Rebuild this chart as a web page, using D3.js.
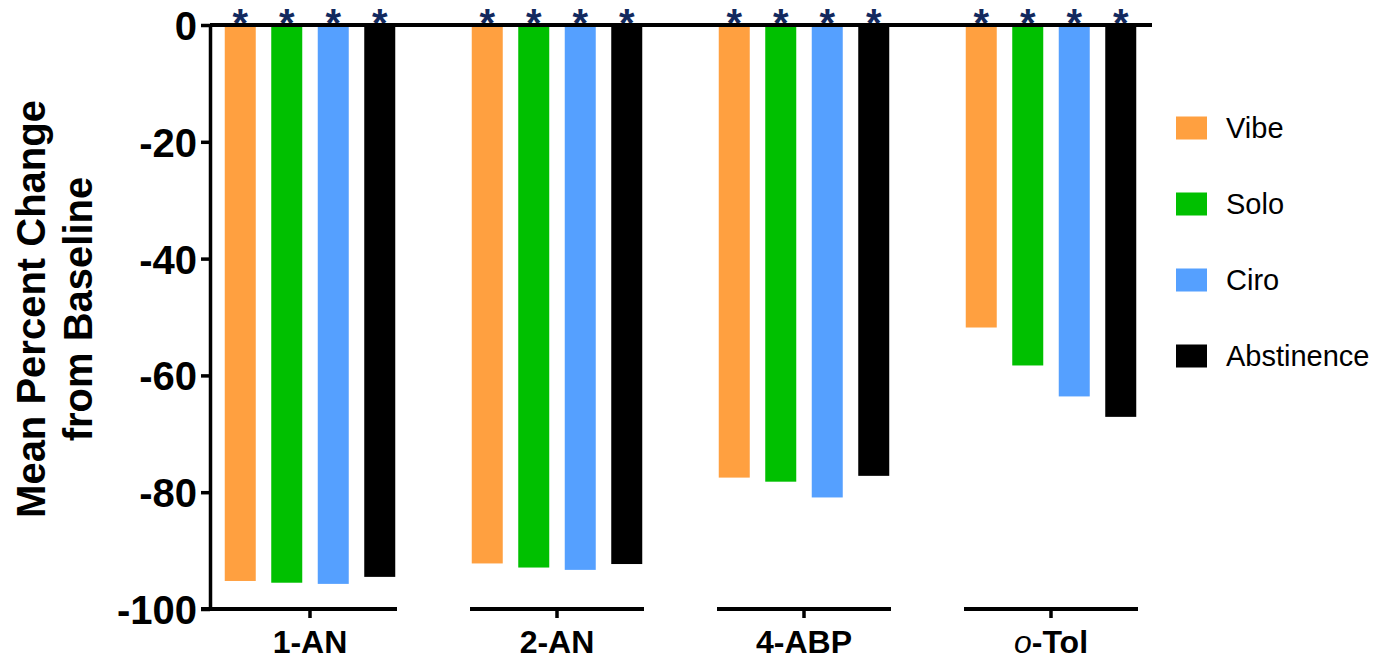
<!DOCTYPE html>
<html>
<head>
<meta charset="utf-8">
<script src="https://cdn.jsdelivr.net/npm/d3@7"></script>
<style>
  body { margin: 0; background: #fff; }
  svg text { font-family: "Liberation Sans", Arial, sans-serif; }
</style>
</head>
<body>
<div id="chart"></div>
<script>
// data
var groups = ["1-AN", "2-AN", "4-ABP", "o-Tol"];
var series = ["Vibe", "Solo", "Ciro", "Abstinence"];
var colors = ["#ffa040", "#00c000", "#55a0ff", "#000000"];
var vibe = [-95.2, -92.2, -77.5, -51.8];
var solo = [-95.5, -92.9, -78.2, -58.3];
var ciro = [-95.7, -93.3, -80.9, -63.6];
var abstinence = [-94.5, -92.3, -77.2, -67.1];
var yTicks = [0, -20, -40, -60, -80, -100];

var values = [vibe, solo, ciro, abstinence];

var width = 1376,
    height = 659;

var svg = d3.select("#chart").append("svg")
    .attr("width", width)
    .attr("height", height);

var axisX = 210;

var y = d3.scaleLinear()
    .domain([-100, 0])
    .range([609, 25]);

var x0 = d3.scalePoint()
    .domain(groups)
    .range([310, 1051]);

var x1 = d3.scaleBand()
    .domain(series)
    .range([-85.25, 85.25])
    .paddingInner(1 / 3)
    .paddingOuter(0);

// bars
var rows = [];
groups.forEach(function (g, gi) {
    series.forEach(function (s, si) {
        rows.push({ group: g, series: s, value: values[si][gi], color: colors[si] });
    });
});

svg.append("g").selectAll("rect")
    .data(rows)
    .enter().append("rect")
    .attr("x", function (d) { return x0(d.group) + x1(d.series); })
    .attr("y", y(0))
    .attr("width", x1.bandwidth())
    .attr("height", function (d) { return y(d.value) - y(0); })
    .attr("fill", function (d) { return d.color; });

// asterisks above every bar
svg.append("g").selectAll("text")
    .data(rows)
    .enter().append("text")
    .attr("x", function (d) { return x0(d.group) + x1(d.series) + x1.bandwidth() / 2; })
    .attr("y", y(0) + 12)
    .attr("text-anchor", "middle")
    .style("font-size", "40px")
    .style("font-weight", "bold")
    .style("fill", "#12295e")
    .text("*");

// zero line across the top
svg.append("line")
    .attr("x1", axisX)
    .attr("x2", x0(groups[groups.length - 1]) + 101)
    .attr("y1", y(0))
    .attr("y2", y(0))
    .attr("stroke", "#000")
    .attr("stroke-width", 4);

// y axis
var yAxis = svg.append("g")
    .attr("transform", "translate(" + axisX + ",0)")
    .call(d3.axisLeft(y).tickValues(yTicks).tickSize(9).tickSizeOuter(0).tickPadding(4)
        .tickFormat(function (d) { return String(d); }));

yAxis.select(".domain").attr("stroke-width", 3.5);
yAxis.selectAll(".tick line").attr("stroke-width", 3.5);
yAxis.selectAll(".tick text")
    .style("font-size", "40px")
    .style("font-weight", "bold")
    .attr("dy", "0.36em")
    .style("fill", "#000");

// x axis, one segment per group
var xg = svg.append("g").selectAll("g")
    .data(groups)
    .enter().append("g");

xg.append("line")
    .attr("x1", function (d, i) { return i === 0 ? axisX - 9 : x0(d) - 87; })
    .attr("x2", function (d) { return x0(d) + 87; })
    .attr("y1", y(-100))
    .attr("y2", y(-100))
    .attr("stroke", "#000")
    .attr("stroke-width", 4);

xg.append("line")
    .attr("x1", function (d) { return x0(d); })
    .attr("x2", function (d) { return x0(d); })
    .attr("y1", y(-100))
    .attr("y2", y(-100) + 9)
    .attr("stroke", "#000")
    .attr("stroke-width", 3.5);

var xt = xg.append("text")
    .attr("x", function (d) { return x0(d); })
    .attr("y", 653)
    .attr("text-anchor", "middle")
    .style("font-size", "32px")
    .style("font-weight", "bold");

xt.each(function (d) {
    var t = d3.select(this);
    if (d.indexOf("o-") === 0) {
        t.append("tspan").style("font-style", "italic").style("font-weight", "normal").text("o");
        t.append("tspan").text(d.slice(1));
    } else {
        t.text(d);
    }
});

// y axis title
var title = svg.append("text")
    .attr("transform", "translate(45,309) rotate(-90)")
    .attr("text-anchor", "middle")
    .style("font-size", "40px")
    .style("font-weight", "bold");
title.append("tspan").attr("x", 0).attr("y", 0).text("Mean Percent Change");
title.append("tspan").attr("x", 0).attr("y", 47).text("from Baseline");

// legend
var legend = svg.append("g").selectAll("g")
    .data(series)
    .enter().append("g")
    .attr("transform", function (d, i) { return "translate(1176," + (128 + i * 76) + ")"; });

legend.append("rect")
    .attr("x", 0)
    .attr("y", -11.5)
    .attr("width", 31)
    .attr("height", 23)
    .attr("fill", function (d, i) { return colors[i]; });

legend.append("text")
    .attr("x", 50)
    .attr("y", 0)
    .attr("dy", "0.36em")
    .style("font-size", "29px")
    .text(function (d) { return d; });
</script>
</body>
</html>
